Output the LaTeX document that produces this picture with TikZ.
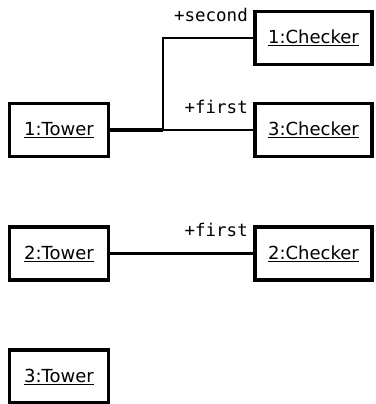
\documentclass[tikz,border=0pt]{standalone}
\usepackage{fontspec}
\setmainfont{DejaVu Sans}
\setmonofont{DejaVu Sans Mono}
\tikzset{
  obj/.style = {draw, line width = 3.3pt, minimum height = 53pt, inner sep = 0pt, font = \fontsize{18}{21}\selectfont},
  tower/.style = {obj, minimum width = 99pt},
  checker/.style = {obj, minimum width = 117pt},
  link/.style = {line width = 2.6pt},
  role/.style = {anchor = base east, inner sep = 0pt, font = \ttfamily\fontsize{17.5}{20}\selectfont}
}
\begin{document}
\begin{tikzpicture}[x = 1pt, y = 1pt]
  \useasboundingbox (0,0) rectangle (375,-404);
  \node[tower] (t1) at (59,-130) {\underline{1:Tower}};
  \node[tower] (t2) at (59,-253.5) {\underline{2:Tower}};
  \node[tower] (t3) at (59,-376.5) {\underline{3:Tower}};
  \node[checker] (c1) at (313.5,-38) {\underline{1:Checker}};
  \node[checker] (c3) at (313.5,-130) {\underline{3:Checker}};
  \node[checker] (c2) at (313.5,-253.5) {\underline{2:Checker}};
  \coordinate (j) at (163,-130); %branch point
  \draw[link, line width = 3.6pt] (t1) -- (j);
  \draw[link] (j) |- (c1);
  \draw[link] (j) -- (c3);
  \draw[link] (t2) -- (c2);
  \node[role] (r1) at (248,-22) {+second};
  \node[role] (r3) at (248,-113) {+first};
  \node[role] (r2) at (248,-236) {+first};
\end{tikzpicture}
\end{document}
